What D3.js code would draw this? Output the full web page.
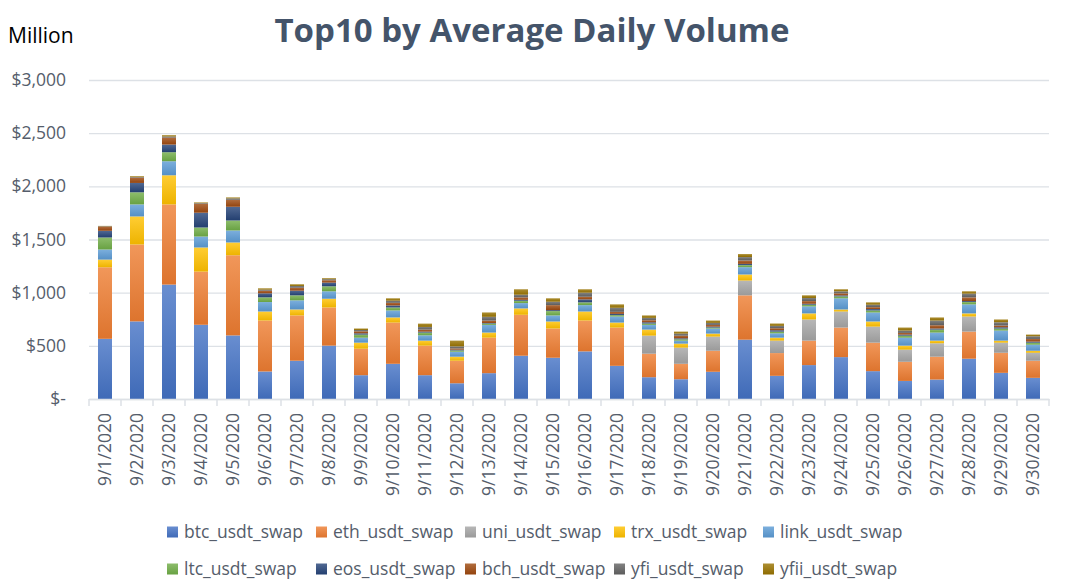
<!DOCTYPE html>
<html>
<head>
<meta charset="utf-8">
<script src="https://cdn.jsdelivr.net/npm/d3@7"></script>
<style>
  html, body { margin: 0; padding: 0; background: #fff; }
  svg { display: block; font-family: "Open Sans", sans-serif; }
</style>
</head>
<body>
<svg id="chart" width="1066" height="587"></svg>
<script>
const dates = ["9/1/2020","9/2/2020","9/3/2020","9/4/2020","9/5/2020","9/6/2020","9/7/2020","9/8/2020","9/9/2020","9/10/2020",
  "9/11/2020","9/12/2020","9/13/2020","9/14/2020","9/15/2020","9/16/2020","9/17/2020","9/18/2020","9/19/2020","9/20/2020",
  "9/21/2020","9/22/2020","9/23/2020","9/24/2020","9/25/2020","9/26/2020","9/27/2020","9/28/2020","9/29/2020","9/30/2020"];

const btc  = [566,730,1076,698,598,259,360,502,224,331,224,148,243,407,388,448,312,205,186,256,558,218,319,394,262,170,183,379,246,199];
const eth  = [673,723,754,500,754,479,426,359,249,388,278,212,334,385,275,290,360,221,145,198,417,214,230,278,268,180,215,255,189,161];
const uni  = [0,0,0,0,0,0,0,0,0,0,0,0,0,0,0,0,0,170,152,133,139,117,199,151,151,114,126,142,95,75];
const trx  = [72,264,274,227,120,85,56,82,57,48,47,38,48,60,66,85,47,57,38,28,57,28,57,19,48,38,25,29,19,19];
const link = [95,113,132,103,113,89,86,70,47,66,50,47,72,50,57,60,57,44,28,48,69,41,66,105,85,75,76,85,95,57];
const ltc  = [113,114,85,85,94,44,47,47,29,28,26,12,13,22,41,26,13,13,13,9,19,16,16,18,19,19,28,22,19,19];
const eos  = [63,88,72,139,129,38,44,35,12,19,9,7,5,9,9,28,12,12,9,9,12,13,9,10,13,10,10,9,12,10];
const bch  = [40,50,66,84,66,25,28,22,19,25,19,12,23,23,47,25,19,19,25,16,32,19,25,19,18,16,31,35,16,25];
const yfi  = [3,5,10,6,13,10,16,10,12,20,25,19,35,25,32,38,38,22,19,19,32,22,29,19,23,22,44,35,31,25];
const yfii = [3,8,12,7,9,12,16,9,14,22,31,54,41,51,32,32,32,23,19,22,28,22,25,19,22,28,29,22,26,16];

const seriesNames = ["btc_usdt_swap","eth_usdt_swap","uni_usdt_swap","trx_usdt_swap","link_usdt_swap",
  "ltc_usdt_swap","eos_usdt_swap","bch_usdt_swap","yfi_usdt_swap","yfii_usdt_swap"];
const seriesValues = [btc, eth, uni, trx, link, ltc, eos, bch, yfi, yfii];
const colors = ["#4472C4","#ED7D31","#A5A5A5","#FFC000","#5B9BD5","#70AD47","#264478","#9E480E","#636363","#997300"];
const yTicks = [0, 500, 1000, 1500, 2000, 2500, 3000];
const yTickLabels = ["$-", "$500", "$1,000", "$1,500", "$2,000", "$2,500", "$3,000"];

const svg = d3.select("#chart");
const plotLeft = 89, plotRight = 1049, plotTop = 80, plotBottom = 399;

// table for stacking
const table = dates.map((d, i) => {
  const row = { date: d };
  seriesNames.forEach((s, k) => row[s] = seriesValues[k][i]);
  return row;
});
const stack = d3.stack().keys(seriesNames)(table);

const x = d3.scaleBand().domain(dates).range([plotLeft, plotRight]).paddingInner(0.5625).paddingOuter(0.28125);
const y = d3.scaleLinear().domain([0, 3000]).range([plotBottom, plotTop]);

// gradients
const defs = svg.append("defs");
colors.forEach((c, k) => {
  const g = defs.append("linearGradient").attr("id", "g" + k).attr("x1", 0).attr("y1", 0).attr("x2", 0).attr("y2", 1);
  g.append("stop").attr("offset", "0%").attr("stop-color", d3.interpolateRgb(c, "#ffffff")(0.2));
  g.append("stop").attr("offset", "100%").attr("stop-color", d3.rgb(c).darker(0.2).formatHex());
});

// title
svg.append("text").attr("x", 532).attr("y", 42).attr("text-anchor", "middle")
  .attr("font-size", 33).attr("font-weight", 700).attr("fill", "#44546A")
  .text("Top10 by Average Daily Volume");

svg.append("text").attr("x", 8).attr("y", 43).attr("font-size", 21).attr("fill", "#000")
  .text("Million");

// grid + y labels
const yAxis = d3.axisLeft(y).tickValues(yTicks)
  .tickFormat((d, i) => yTickLabels[i]).tickSize(-(plotRight - plotLeft)).tickPadding(23);
const gy = svg.append("g").attr("transform", `translate(${plotLeft},0)`).call(yAxis);
gy.select(".domain").remove();
gy.selectAll(".tick line").attr("stroke", "#dde1e6").attr("stroke-width", 1.4);
gy.selectAll(".tick text").attr("font-size", 17.5).attr("fill", "#555d6b")
  .attr("font-family", "Open Sans, sans-serif");

// bars
svg.append("g").selectAll("g").data(stack).join("g")
  .attr("fill", (d, k) => `url(#g${k})`)
  .selectAll("rect").data(d => d).join("rect")
  .attr("x", d => x(d.data.date))
  .attr("width", x.bandwidth())
  .attr("y", d => y(d[1]))
  .attr("height", d => Math.max(0, y(d[0]) - y(d[1])));

// x axis
const xAxis = d3.axisBottom(x).tickSize(0).tickPadding(14);
const gx = svg.append("g").attr("transform", `translate(0,${plotBottom})`).call(xAxis);
gx.select(".domain").attr("stroke", "#dde1e6").attr("stroke-width", 1.5);
gx.selectAll(".tick text").attr("font-size", 17.5).attr("fill", "#555d6b")
  .attr("font-family", "Open Sans, sans-serif")
  .attr("transform", "rotate(-90)")
  .attr("text-anchor", "end")
  .attr("x", -14).attr("y", 0).attr("dy", "0.35em");
// category boundary ticks
const step = x.step();
gx.append("g").selectAll("line").data(d3.range(dates.length + 1)).join("line")
  .attr("x1", i => plotLeft + i * step).attr("x2", i => plotLeft + i * step)
  .attr("y1", 0).attr("y2", 7)
  .attr("stroke", "#dde1e6").attr("stroke-width", 1.5);

// legend
const legend = svg.append("g");
seriesNames.forEach((s, k) => {
  const row = Math.floor(k / 5), col = k % 5;
  const lx = 167 + col * 149, ly = 532 + row * 37;
  legend.append("rect").attr("x", lx).attr("y", ly - 5.5).attr("width", 11).attr("height", 11)
    .attr("fill", `url(#g${k})`);
  legend.append("text").attr("x", lx + 17).attr("y", ly).attr("dy", "0.35em")
    .attr("font-size", 17.5).attr("fill", "#555d6b").text(s);
});
</script>
</body>
</html>
